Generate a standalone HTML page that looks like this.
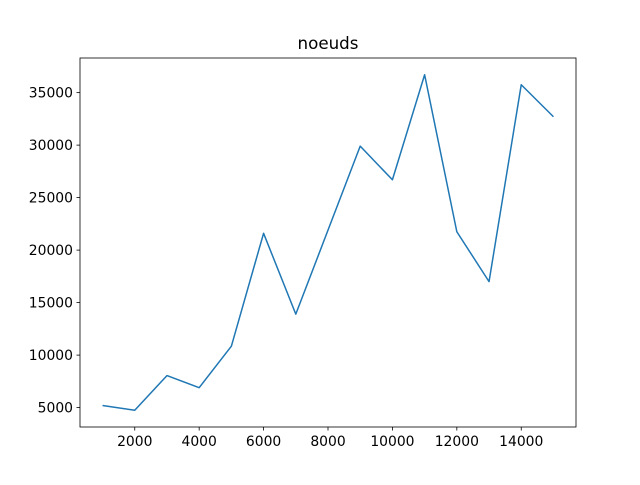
<!DOCTYPE html>
<html><head><meta charset="utf-8"><style>
body{margin:0;background:#fff;}
text{font-family:"DejaVu Sans","Liberation Sans",sans-serif;font-size:13.9px;fill:#000;}
</style></head><body>
<svg id="chart" width="640" height="480">
<rect width="640" height="480" fill="#fff"/>
<text x="328" y="49" text-anchor="middle" style="font-size:16.7px">noeuds</text>
<g id="plot"></g>
<rect x="80" y="58" width="496" height="369" fill="none" stroke="#000" stroke-width="0.8"/>
</svg>
<script>
const xValues=[1000,2000,3000,4000,5000,6000,7000,8000,9000,10000,11000,12000,13000,14000,15000];
const yValues=[5200,4750,8050,6900,10850,21600,13900,21900,29900,26700,36700,21750,17000,35750,32700];
const xTicks=[2000,4000,6000,8000,10000,12000,14000];
const yTicks=[5000,10000,15000,20000,25000,30000,35000];
const L=80,R=576,T=58,B=427;
const xmin0=Math.min(...xValues),xmax0=Math.max(...xValues);
const ymin0=Math.min(...yValues),ymax0=Math.max(...yValues);
const xm=(xmax0-xmin0)*0.05,ym=(ymax0-ymin0)*0.05;
const xmin=xmin0-xm,xmax=xmax0+xm,ymin=ymin0-ym,ymax=ymax0+ym;
const sx=v=>L+(v-xmin)/(xmax-xmin)*(R-L);
const sy=v=>B-(v-ymin)/(ymax-ymin)*(B-T);
const g=document.getElementById('plot');
const NS='http://www.w3.org/2000/svg';
function mk(t,a){const e=document.createElementNS(NS,t);for(const k in a)e.setAttribute(k,a[k]);g.appendChild(e);return e;}
xTicks.forEach(v=>{
 const x=sx(v);
 const l=mk('line',{x1:x,x2:x,y1:B,y2:B+3.5,stroke:'#000','stroke-width':0.8});
 
 
 const t=mk('text',{x:x,y:B+19,'text-anchor':'middle'});t.textContent=v;
 
 
});
yTicks.forEach(v=>{
 const y=sy(v);
 const l=mk('line',{x1:L-3.5,x2:L,y1:y,y2:y,stroke:'#000','stroke-width':0.8});
 
 
 const t=mk('text',{x:L-7,y:y+5,'text-anchor':'end'});t.textContent=v;
 
 
});
const p=mk('polyline',{points:xValues.map((x,i)=>sx(x)+','+sy(yValues[i])).join(' '),fill:'none',stroke:'#1f77b4','stroke-width':1.5,'stroke-linejoin':'round'});


</script>
</body></html>
